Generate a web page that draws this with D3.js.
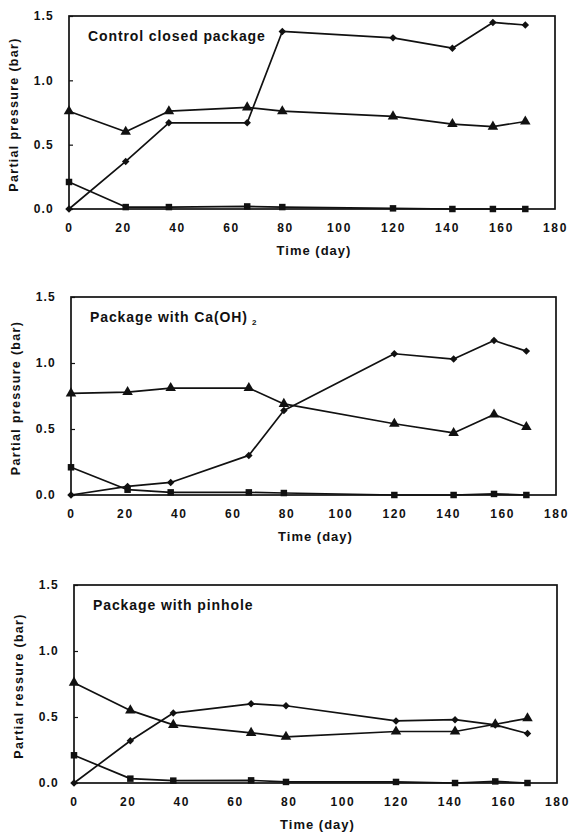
<!DOCTYPE html>
<html>
<head>
<meta charset="utf-8">
<script src="https://cdn.jsdelivr.net/npm/d3@7"></script>
<style>
  html, body { margin: 0; padding: 0; background: #fff; }
  svg { display: block; }
  text { font-family: "Liberation Sans", Arial, Helvetica, sans-serif; font-weight: bold; fill: #111; }
</style>
</head>
<body>
<div id="chart"></div>
<script>
// sampling days (same in all three packages)
var days = [0, 21, 37, 66, 79, 120, 142, 157, 169];

// control closed package
var controlDiamond = [0, 0.37, 0.67, 0.67, 1.38, 1.33, 1.25, 1.45, 1.43];
var controlTriangle = [0.76, 0.6, 0.76, 0.79, 0.76, 0.72, 0.66, 0.64, 0.68];
var controlSquare = [0.21, 0.015, 0.015, 0.02, 0.015, 0.005, 0.0, 0.0, 0.0];

// package with Ca(OH)2
var caohDiamond = [0, 0.065, 0.095, 0.3, 0.64, 1.07, 1.03, 1.17, 1.09];
var caohTriangle = [0.77, 0.78, 0.81, 0.81, 0.69, 0.54, 0.47, 0.61, 0.515];
var caohSquare = [0.21, 0.04, 0.02, 0.02, 0.015, 0.0, 0.0, 0.008, 0.0];

// package with pinhole
var pinDiamond = [0, 0.32, 0.53, 0.6, 0.585, 0.47, 0.48, 0.44, 0.375];
var pinTriangle = [0.76, 0.55, 0.44, 0.38, 0.35, 0.39, 0.39, 0.445, 0.49];
var pinSquare = [0.21, 0.033, 0.018, 0.02, 0.008, 0.008, 0.0, 0.012, 0.0];

var xTicks = [0, 20, 40, 60, 80, 100, 120, 140, 160, 180];
var yTicks = [0.0, 0.5, 1.0, 1.5];

var width = 570, height = 832;

var panels = [
  { title: "Control closed package", sub: null, ylabel: "Partial pressure (bar)",
    diamond: controlDiamond, triangle: controlTriangle, square: controlSquare,
    box: { left: 69, right: 555, top: 16, bottom: 209 } },
  { title: "Package with Ca(OH)", sub: "2", ylabel: "Partial pressure (bar)",
    diamond: caohDiamond, triangle: caohTriangle, square: caohSquare,
    box: { left: 71, right: 556, top: 297, bottom: 495 } },
  { title: "Package with pinhole", sub: null, ylabel: "Partial ressure (bar)",
    diamond: pinDiamond, triangle: pinTriangle, square: pinSquare,
    box: { left: 74, right: 557, top: 585, bottom: 783 } }
];

var svg = d3.select("#chart").append("svg")
  .attr("width", width)
  .attr("height", height);

panels.forEach(function(p) {
  drawPanel(p);
});

function styleTicks(sel, size, spacing) {
  sel.selectAll("text")
    .attr("font-size", size)
    .attr("letter-spacing", spacing)
    .style("font-family", "'Liberation Sans', Arial, sans-serif")
    .style("font-weight", "bold")
    .attr("fill", "#111");
}

function drawPanel(p) {
  var b = p.box;
  var x = d3.scaleLinear().domain([0, 180]).range([b.left, b.right]);
  var y = d3.scaleLinear().domain([0, 1.5]).range([b.bottom, b.top]);
  var g = svg.append("g");

  // frame
  g.append("rect")
    .attr("x", b.left).attr("y", b.top)
    .attr("width", b.right - b.left).attr("height", b.bottom - b.top)
    .attr("fill", "none").attr("stroke", "#111").attr("stroke-width", 1.7);

  // y axis (inward ticks)
  var yAxis = d3.axisLeft(y).tickValues(yTicks).tickFormat(d3.format(".1f")).tickSize(-4).tickPadding(15);
  var ya = g.append("g").attr("transform", "translate(" + b.left + ",0)").call(yAxis);
  ya.select(".domain").remove();
  ya.selectAll("line").attr("stroke", "#111").attr("stroke-width", 1.2);
  styleTicks(ya, "12px", "1.2px");

  // x axis (labels only)
  var xAxis = d3.axisBottom(x).tickValues(xTicks).tickSize(0).tickPadding(14);
  var xa = g.append("g").attr("transform", "translate(0," + b.bottom + ")").call(xAxis);
  xa.select(".domain").remove();
  styleTicks(xa, "12px", "1.6px");

  // axis titles
  g.append("text")
    .attr("x", (b.left + b.right) / 2 + 2)
    .attr("y", b.bottom + 46)
    .attr("text-anchor", "middle")
    .attr("font-size", "13px")
    .attr("letter-spacing", "1px")
    .text("Time (day)");

  g.append("text")
    .attr("transform", "translate(" + (b.left - 51) + "," + ((b.top + b.bottom) / 2 + 2) + ") rotate(-90)")
    .attr("text-anchor", "middle")
    .attr("font-size", "12.5px")
    .attr("letter-spacing", "1.3px")
    .text(p.ylabel);

  // panel title
  var t = g.append("text")
    .attr("x", b.left + 19)
    .attr("y", b.top + 25)
    .attr("font-size", "14px")
    .attr("letter-spacing", "0.9px")
    .text(p.title);
  if (p.sub) {
    t.append("tspan").attr("dx", 4).attr("dy", 3).attr("font-size", "8px").text(p.sub);
  }

  var line = d3.line()
    .x(function(d) { return x(d[0]); })
    .y(function(d) { return y(d[1]); });

  var series = [
    { values: p.square, symbol: d3.symbolSquare, size: 42, rot: 0 },
    { values: p.triangle, symbol: d3.symbolTriangle, size: 48, rot: 0 },
    { values: p.diamond, symbol: d3.symbolSquare, size: 28, rot: 45 }
  ];

  series.forEach(function(s) {
    var pts = days.map(function(d, i) { return [d, s.values[i]]; });
    g.append("path")
      .datum(pts)
      .attr("d", line)
      .attr("fill", "none")
      .attr("stroke", "#111")
      .attr("stroke-width", 1.7)
      .attr("stroke-linejoin", "round");
    g.selectAll(null)
      .data(pts)
      .enter()
      .append("path")
      .attr("d", d3.symbol().type(s.symbol).size(s.size))
      .attr("transform", function(d) {
        return "translate(" + x(d[0]) + "," + y(d[1]) + ") rotate(" + s.rot + ")";
      })
      .attr("fill", "#111");
  });
}
</script>
</body>
</html>
